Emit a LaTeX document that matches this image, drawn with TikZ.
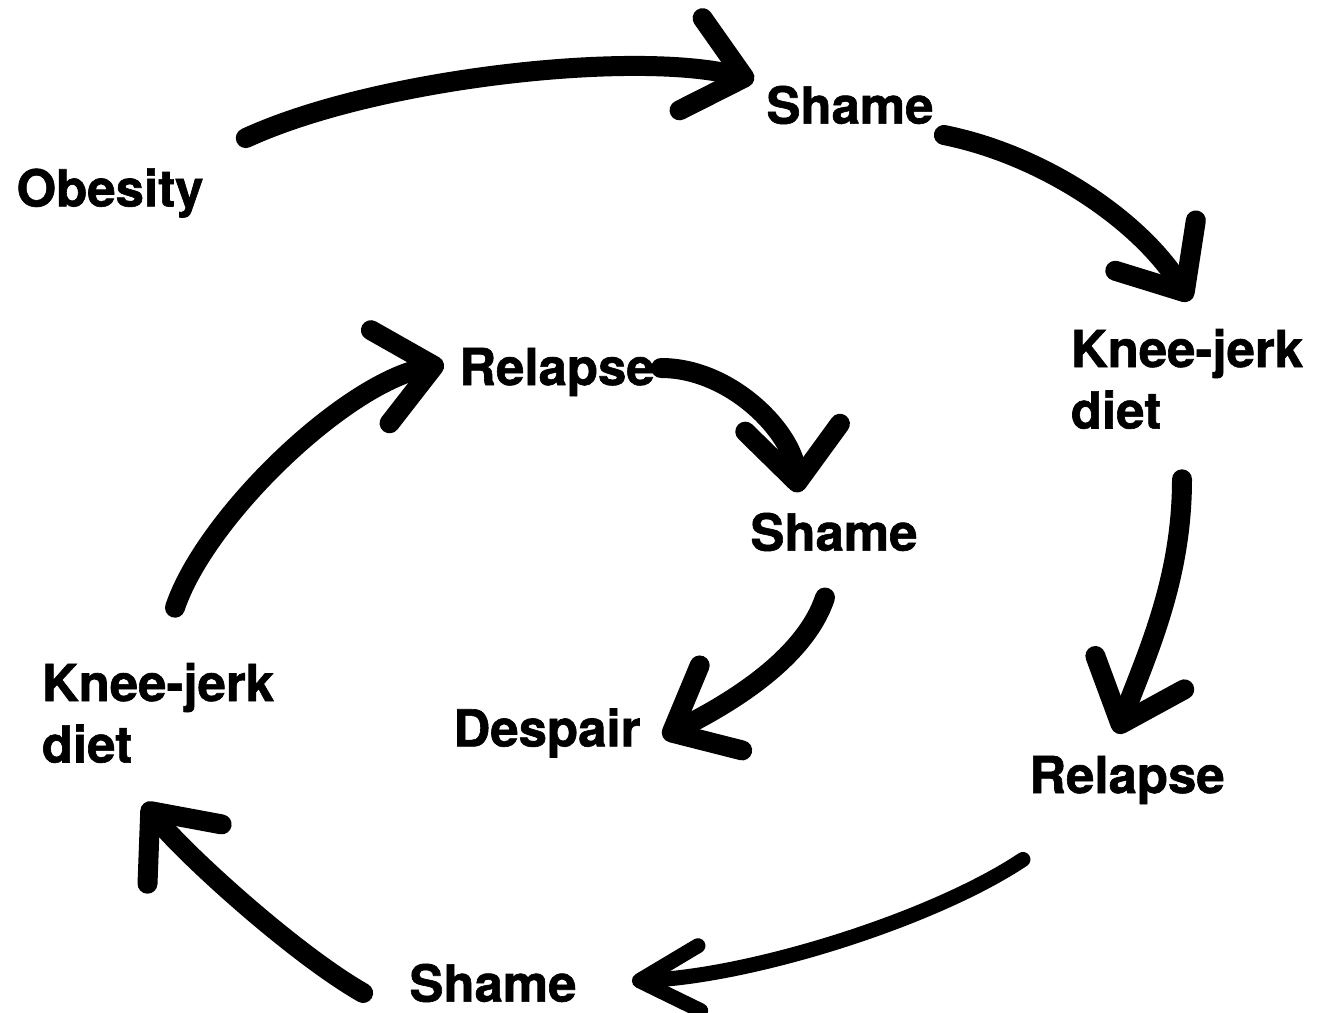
\documentclass[tikz,border=0pt]{standalone}
\usepackage{fontspec}
\setmainfont{TeX Gyre Heros}[BoldFeatures={FakeBold=1.2}]
\usetikzlibrary{arrows.meta, calc}

\begin{document}
\begin{tikzpicture}[x=0.02cm, y=-0.02cm,
    word/.style={font=\fontsize{29}{35}\selectfont\bfseries, inner sep=0pt, align=left},
    stroke/.style={line width=0.4cm, line cap=round, line join=round,
        -{Straight Barb[round, length=1.1cm, width=1.9cm]}},
    narrow/.style={line width=0.3cm, -{Straight Barb[round, length=1.2cm, width=1.3cm]}}]
        \useasboundingbox (0,0) rectangle (1319,1013);
        % Outer loop
        \node[word] (obesity) at (110,193) {Obesity};
        \node[word] (shame_a) at (850,105) {Shame};
        \node[word] (knee_a) at (1187,379) {Knee-jerk\\diet};
        \node[word] (relapse_a) at (1127,780) {Relapse};
        \node[word] (shame_b) at (493,983) {Shame};
        \node[word] (knee_b) at (158,713) {Knee-jerk\\diet};
        % Inner loop
        \node[word] (relapse_b) at (557,372) {Relapse};
        \node[word] (shame_c) at (834,532) {Shame};
        \node[word] (despair) at (547,733) {Despair};

        \draw[stroke] ($(obesity.north east)+(42,-30)$) .. controls +(130,-60) and +(-120,-30) .. ($(shame_a.west)+(-12,-25)$);
        \draw[stroke] ($(shame_a.east)+(10,30)$) .. controls +(100,20) and +(-50,-80) .. ($(knee_a.north)+(3,-28)$);
        \draw[stroke] ($(knee_a.south)+(-5,50)$) .. controls +(0,100) and +(30,-80) .. ($(relapse_a.north)+(-10,-22)$);
        \draw[stroke, narrow] ($(relapse_a.south west)+(-6,55)$) .. controls +(-90,60) and +(120,-5) .. ($(shame_b.east)+(55,-2)$);
        \draw[stroke] ($(shame_b.west)+(-46,10)$) .. controls +(-70,-40) and +(40,50) .. ($(knee_b.south)+(-14,40)$);
        \draw[stroke] ($(knee_b.north)+(17,-55)$) .. controls +(30,-90) and +(-100,20) .. ($(relapse_b.west)+(-15,-8)$);
        \draw[stroke] ($(relapse_b.east)+(6,-4)$) .. controls +(70,0) and +(-5,-60) .. ($(shame_c.north)+(-36,-20)$);
        \draw[stroke] ($(shame_c.south)+(-9,46)$) .. controls +(-20,60) and +(70,-35) .. ($(despair.east)+(22,4)$);
    \end{tikzpicture}
\end{document}
